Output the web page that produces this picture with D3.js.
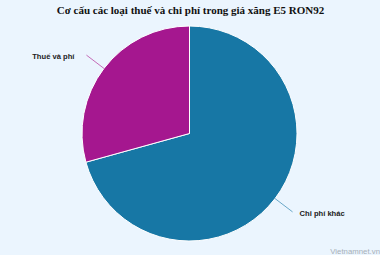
<!DOCTYPE html>
<html>
<head>
<meta charset="utf-8">
<script src="https://cdn.jsdelivr.net/npm/d3@7"></script>
<style>
  html, body { margin: 0; padding: 0; background: #ebf5fe; }
  svg { display: block; }
</style>
</head>
<body>
<svg width="380" height="255"></svg>
<script>
const title = "Cơ cấu các loại thuế và chi phí trong giá xăng E5 RON92";
const categories = ["Chi phí khác", "Thuế và phí"];
const shares = [70.7, 29.3];
const colors = ["#1777a5", "#a5178f"];
const lineColors = ["#6aa8c8", "#c56cb8"];

const svg = d3.select("svg");
const cx = 189.5, cy = 133.5, radius = 107.5;

svg.append("rect")
    .attr("width", 380)
    .attr("height", 255)
    .attr("fill", "#ebf5fe");

svg.append("text")
    .attr("x", 190.5)
    .attr("y", 14)
    .attr("text-anchor", "middle")
    .attr("font-family", "Liberation Serif, Times New Roman, serif")
    .attr("font-weight", "bold")
    .attr("font-size", 11)
    .attr("fill", "#111")
    .text(title);

const pie = d3.pie().sort(null).value(d => d)(shares);
const arc = d3.arc().innerRadius(0).outerRadius(radius);

const g = svg.append("g").attr("transform", `translate(${cx},${cy})`);

g.selectAll("path.slice")
    .data(pie)
    .join("path")
    .attr("class", "slice")
    .attr("d", arc)
    .attr("fill", (d, i) => colors[i])
    .attr("stroke", "#ffffff")
    .attr("stroke-width", 1)
    .attr("stroke-linejoin", "round");

// connectors and labels
const edge = a => [Math.sin(a), -Math.cos(a)];

pie.forEach((d, i) => {
    const mid = (d.startAngle + d.endAngle) / 2;
    const [ux, uy] = edge(mid);
    const r0 = radius, r1 = radius + 22;
    g.append("line")
        .attr("x1", ux * r0).attr("y1", uy * r0)
        .attr("x2", ux * r1).attr("y2", uy * r1)
        .attr("stroke", lineColors[i])
        .attr("stroke-width", 1);
    const right = ux > 0;
    g.append("text")
        .attr("x", ux * r1 + (right ? 7 : -12))
        .attr("y", uy * r1 + 1.5)
        .attr("dy", "0.35em")
        .attr("text-anchor", right ? "start" : "end")
        .attr("font-family", "Liberation Sans, Arial, sans-serif")
        .attr("font-weight", "bold")
        .attr("font-size", 7.6)
        .attr("fill", "#222")
        .text(categories[i]);
});

svg.append("text")
    .attr("x", 380)
    .attr("y", 253.5)
    .attr("text-anchor", "end")
    .attr("font-family", "Liberation Sans, Arial, sans-serif")
    .attr("font-size", 7.8)
    .attr("fill", "#a8b0b8")
    .text("Vietnamnet.vn");
</script>
</body>
</html>
